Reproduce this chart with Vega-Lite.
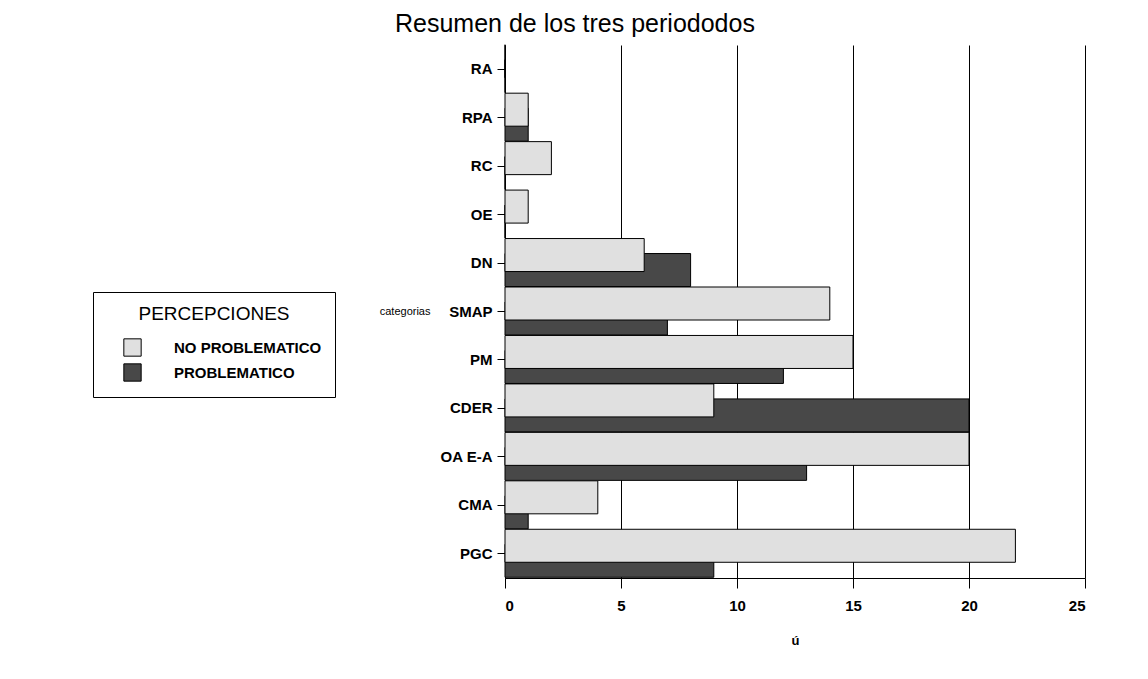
{
  "$schema": "https://vega.github.io/schema/vega-lite/v6.json",
  "autosize": {"type": "none"},
  "width": 580,
  "height": 533,
  "padding": {"left": 505, "top": 45, "right": 63, "bottom": 101},
  "background": "white",
  "title": {
    "text": "Resumen de los tres periododos",
    "anchor": "start",
    "frame": "group",
    "dx": -110,
    "dy": 25,
    "offset": 12,
    "baseline": "alphabetic",
    "fontSize": 25,
    "fontWeight": "normal",
    "color": "black"
  },
  "config": {
    "font": "Liberation Sans",
    "view": {"stroke": null},
    "axis": {
      "domainColor": "black",
      "tickColor": "black",
      "labelColor": "black",
      "titleColor": "black",
      "gridColor": "black",
      "gridOpacity": 1,
      "gridWidth": 1,
      "labelFontWeight": "bold",
      "labelFontSize": 15
    }
  },
  "data": {
    "values": [
      {"cat": "RA", "serie": "NO PROBLEMATICO", "n": 0},
      {"cat": "RA", "serie": "PROBLEMATICO", "n": 0},
      {"cat": "RPA", "serie": "NO PROBLEMATICO", "n": 1},
      {"cat": "RPA", "serie": "PROBLEMATICO", "n": 1},
      {"cat": "RC", "serie": "NO PROBLEMATICO", "n": 2},
      {"cat": "RC", "serie": "PROBLEMATICO", "n": 0},
      {"cat": "OE", "serie": "NO PROBLEMATICO", "n": 1},
      {"cat": "OE", "serie": "PROBLEMATICO", "n": 0},
      {"cat": "DN", "serie": "NO PROBLEMATICO", "n": 6},
      {"cat": "DN", "serie": "PROBLEMATICO", "n": 8},
      {"cat": "SMAP", "serie": "NO PROBLEMATICO", "n": 14},
      {"cat": "SMAP", "serie": "PROBLEMATICO", "n": 7},
      {"cat": "PM", "serie": "NO PROBLEMATICO", "n": 15},
      {"cat": "PM", "serie": "PROBLEMATICO", "n": 12},
      {"cat": "CDER", "serie": "NO PROBLEMATICO", "n": 9},
      {"cat": "CDER", "serie": "PROBLEMATICO", "n": 20},
      {"cat": "OA E-A", "serie": "NO PROBLEMATICO", "n": 20},
      {"cat": "OA E-A", "serie": "PROBLEMATICO", "n": 13},
      {"cat": "CMA", "serie": "NO PROBLEMATICO", "n": 4},
      {"cat": "CMA", "serie": "PROBLEMATICO", "n": 1},
      {"cat": "PGC", "serie": "NO PROBLEMATICO", "n": 22},
      {"cat": "PGC", "serie": "PROBLEMATICO", "n": 9}
    ]
  },
  "encoding": {
    "y": {
      "field": "cat",
      "type": "nominal",
      "scale": {
        "domain": ["RA", "RPA", "RC", "OE", "DN", "SMAP", "PM", "CDER", "OA E-A", "CMA", "PGC"],
        "paddingInner": 0,
        "paddingOuter": 0
      },
      "axis": {
        "title": "categorias",
        "titleAngle": 0,
        "titleAlign": "right",
        "titleBaseline": "middle",
        "titleX": -75,
        "titleY": 266,
        "titleFontWeight": "normal",
        "titleFontSize": 11,
        "tickSize": 8,
        "labelPadding": 5,
        "grid": false
      }
    },
    "x": {
      "field": "n",
      "type": "quantitative",
      "scale": {"domain": [0, 25], "nice": false},
      "axis": {
        "values": [0, 5, 10, 15, 20, 25],
        "title": "ú",
        "titleFontSize": 13,
        "titleFontWeight": "bold",
        "titlePadding": 21,
        "tickSize": 10,
        "labelPadding": 10,
        "grid": true
      }
    },
    "color": {
      "field": "serie",
      "type": "nominal",
      "scale": {
        "domain": ["NO PROBLEMATICO", "PROBLEMATICO"],
        "range": ["#e0e0e0", "#484848"]
      },
      "legend": {
        "orient": "none",
        "legendX": -412,
        "legendY": 247,
        "title": "PERCEPCIONES",
        "titleFontSize": 19,
        "titleFontWeight": "normal",
        "titleColor": "black",
        "titleAnchor": "middle",
        "titlePadding": 14,
        "labelFontSize": 15,
        "labelFontWeight": "bold",
        "labelColor": "black",
        "labelOffset": 32,
        "symbolOffset": 17,
        "symbolType": "square",
        "symbolSize": 300,
        "symbolStrokeColor": "black",
        "symbolStrokeWidth": 1,
        "symbolOpacity": 1,
        "rowPadding": 2,
        "strokeColor": "black",
        "fillColor": "white",
        "padding": 13
      }
    }
  },
  "layer": [
    {
      "transform": [{"filter": "datum.serie === 'PROBLEMATICO'"}],
      "mark": {"type": "bar", "height": 33, "yOffset": 7, "stroke": "black", "strokeWidth": 1, "opacity": 1}
    },
    {
      "transform": [{"filter": "datum.serie === 'NO PROBLEMATICO'"}],
      "mark": {"type": "bar", "height": 33, "yOffset": -8, "stroke": "black", "strokeWidth": 1, "opacity": 1}
    }
  ]
}
